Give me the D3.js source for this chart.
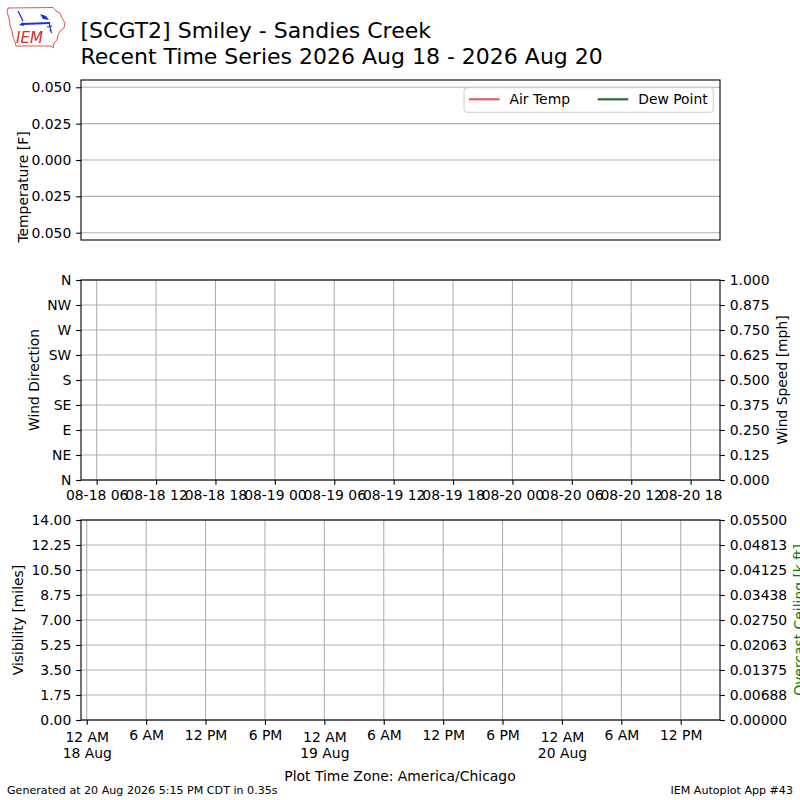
<!DOCTYPE html>
<html>
<head>
<meta charset="utf-8">
<script src="https://cdn.jsdelivr.net/npm/d3@7"></script>
<style>
  html, body { margin: 0; padding: 0; background: #fff; }
  svg { display: block; }
  text { font-family: "DejaVu Sans", sans-serif; }
</style>
</head>
<body>
<div id="chart"></div>
<script>
// ---------------- data ----------------
const titleLines = ["[SCGT2] Smiley - Sandies Creek", "Recent Time Series 2026 Aug 18 - 2026 Aug 20"];
const timeDomain = ["2026-08-18T04:25:00Z", "2026-08-20T20:58:00Z"];

// series (no observations in this window)
const obsTimes = [];
const airTemp = [];
const dewPoint = [];
const windDir = [];
const windSpeed = [];
const visibility = [];
const ceiling = [];

const seriesNames = ["Air Temp", "Dew Point"];
const seriesColors = ["#e05c66", "#2d6a2f"];

// panel 1 ticks
const tempDomain = [-0.055, 0.055];
const tempTicks = [-0.05, -0.025, 0, 0.025, 0.05];
const tempTickLabels = ["0.050", "0.025", "0.000", "0.025", "0.050"];

// panel 2 ticks
const dirTicks = [0, 45, 90, 135, 180, 225, 270, 315, 360];
const dirLabels = ["N", "NE", "E", "SE", "S", "SW", "W", "NW", "N"];
const speedTicks = [0, 0.125, 0.25, 0.375, 0.5, 0.625, 0.75, 0.875, 1.0];
const speedLabels = ["0.000", "0.125", "0.250", "0.375", "0.500", "0.625", "0.750", "0.875", "1.000"];
const utcTicks = ["2026-08-18T06:00Z", "2026-08-18T12:00Z", "2026-08-18T18:00Z", "2026-08-19T00:00Z",
  "2026-08-19T06:00Z", "2026-08-19T12:00Z", "2026-08-19T18:00Z", "2026-08-20T00:00Z",
  "2026-08-20T06:00Z", "2026-08-20T12:00Z", "2026-08-20T18:00Z"];
const utcTickLabels = ["08-18 06", "08-18 12", "08-18 18", "08-19 00", "08-19 06", "08-19 12",
  "08-19 18", "08-20 00", "08-20 06", "08-20 12", "08-20 18"];

// panel 3 ticks
const visTicks = [0, 1.75, 3.5, 5.25, 7, 8.75, 10.5, 12.25, 14];
const visLabels = ["0.00", "1.75", "3.50", "5.25", "7.00", "8.75", "10.50", "12.25", "14.00"];
const ceilTicks = [0, 0.006875, 0.01375, 0.020625, 0.0275, 0.034375, 0.04125, 0.048125, 0.055];
const ceilLabels = ["0.00000", "0.00688", "0.01375", "0.02063", "0.02750", "0.03438", "0.04125", "0.04813", "0.05500"];
const localTicks = ["2026-08-18T05:00Z", "2026-08-18T11:00Z", "2026-08-18T17:00Z", "2026-08-18T23:00Z",
  "2026-08-19T05:00Z", "2026-08-19T11:00Z", "2026-08-19T17:00Z", "2026-08-19T23:00Z",
  "2026-08-20T05:00Z", "2026-08-20T11:00Z", "2026-08-20T17:00Z"];
const localTickLabels = ["12 AM|18 Aug", "6 AM", "12 PM", "6 PM", "12 AM|19 Aug", "6 AM", "12 PM", "6 PM",
  "12 AM|20 Aug", "6 AM", "12 PM"];

// ---------------- drawing ----------------
const W = 800, H = 800;
const FS = 13.9;
const TICK = 4.86, PAD = 4.86;
const GRID = "#b0b0b0";
const svg = d3.select("#chart").append("svg").attr("width", W).attr("height", H);

const left = 81, right = 720;
const p1 = {top: 80, bottom: 240};
const p2 = {top: 280, bottom: 480};
const p3 = {top: 520, bottom: 720};

const x = d3.scaleUtc().domain(timeDomain.map(d => new Date(d))).range([left, right]);

function styleAxis(g) {
  g.attr("font-size", FS).attr("font-family", "DejaVu Sans");
  g.select(".domain").remove();
  g.selectAll(".tick line").attr("stroke", "#000").attr("stroke-width", 1.1);
  g.selectAll(".tick text").attr("fill", "#000");
}
function frame(p) {
  svg.append("rect").attr("x", left).attr("y", p.top).attr("width", right - left).attr("height", p.bottom - p.top)
    .attr("fill", "none").attr("stroke", "#000").attr("stroke-width", 1.1);
}
function hgrid(p, scale, ticks) {
  svg.append("g").selectAll("line").data(ticks).join("line")
    .attr("x1", left).attr("x2", right).attr("y1", d => scale(d)).attr("y2", d => scale(d))
    .attr("stroke", GRID).attr("stroke-width", 1.1);
}
function vgrid(p, ticks) {
  svg.append("g").selectAll("line").data(ticks).join("line")
    .attr("y1", p.top).attr("y2", p.bottom).attr("x1", d => x(new Date(d))).attr("x2", d => x(new Date(d)))
    .attr("stroke", GRID).attr("stroke-width", 1.1);
}
function ylabel(txt, xb, yc, color) {
  svg.append("text").attr("transform", `translate(${xb},${yc}) rotate(-90)`)
    .attr("text-anchor", "middle").attr("font-size", FS).attr("fill", color || "#000").text(txt);
}

// ---- Panel 1: temperature ----
const yT = d3.scaleLinear().domain(tempDomain).range([p1.bottom, p1.top]);
hgrid(p1, yT, tempTicks);
const lineT = d3.line().x((d, i) => x(new Date(obsTimes[i]))).y(d => yT(d));
svg.append("path").datum(airTemp).attr("d", lineT).attr("fill", "none").attr("stroke", seriesColors[0]).attr("stroke-width", 2);
svg.append("path").datum(dewPoint).attr("d", lineT).attr("fill", "none").attr("stroke", seriesColors[1]).attr("stroke-width", 2);
svg.append("g").attr("transform", `translate(${left},0)`)
  .call(d3.axisLeft(yT).tickValues(tempTicks).tickFormat((d, i) => tempTickLabels[i]).tickSize(TICK).tickPadding(PAD))
  .call(styleAxis);
frame(p1);
ylabel("Temperature [F]", 27.5, 187);

// legend
const lg = svg.append("g");
lg.append("rect").attr("x", 464).attr("y", 87.7).attr("width", 249.3).attr("height", 24.6).attr("rx", 3)
  .attr("fill", "#fff").attr("fill-opacity", 0.8).attr("stroke", "#cccccc").attr("stroke-width", 1);
const legX = [469, 597.7];
seriesNames.forEach((n, i) => {
  lg.append("line").attr("x1", legX[i]).attr("x2", legX[i] + 30.6).attr("y1", 99.3).attr("y2", 99.3)
    .attr("stroke", seriesColors[i]).attr("stroke-width", 2.2);
  lg.append("text").attr("x", legX[i] + 40.5).attr("y", 104).attr("font-size", FS).attr("fill", "#000").text(n);
});

// ---- Panel 2: wind ----
const yD = d3.scaleLinear().domain([0, 360]).range([p2.bottom, p2.top]);
const yS = d3.scaleLinear().domain([0, 1]).range([p2.bottom, p2.top]);
hgrid(p2, yD, dirTicks);
vgrid(p2, utcTicks);
svg.append("g").selectAll("circle").data(windDir).join("circle")
  .attr("cx", (d, i) => x(new Date(obsTimes[i]))).attr("cy", d => yD(d)).attr("r", 2).attr("fill", "b");
svg.append("path").datum(windSpeed).attr("d", d3.line().x((d, i) => x(new Date(obsTimes[i]))).y(d => yS(d)))
  .attr("fill", "none").attr("stroke", "#000");
svg.append("g").attr("transform", `translate(${left},0)`)
  .call(d3.axisLeft(yD).tickValues(dirTicks).tickFormat((d, i) => dirLabels[i]).tickSize(TICK).tickPadding(PAD))
  .call(styleAxis);
svg.append("g").attr("transform", `translate(${right},0)`)
  .call(d3.axisRight(yS).tickValues(speedTicks).tickFormat((d, i) => speedLabels[i]).tickSize(TICK).tickPadding(PAD))
  .call(styleAxis);
svg.append("g").attr("transform", `translate(0,${p2.bottom})`)
  .call(d3.axisBottom(x).tickValues(utcTicks.map(d => new Date(d))).tickFormat((d, i) => utcTickLabels[i]).tickSize(TICK).tickPadding(PAD))
  .call(styleAxis);
frame(p2);
ylabel("Wind Direction", 38.5, 380);
ylabel("Wind Speed [mph]", 786.5, 380);

// ---- Panel 3: visibility / ceiling ----
const yV = d3.scaleLinear().domain([0, 14]).range([p3.bottom, p3.top]);
const yC = d3.scaleLinear().domain([0, 0.055]).range([p3.bottom, p3.top]);
hgrid(p3, yV, visTicks);
vgrid(p3, localTicks);
svg.append("path").datum(visibility).attr("d", d3.line().x((d, i) => x(new Date(obsTimes[i]))).y(d => yV(d)))
  .attr("fill", "none").attr("stroke", "#000");
svg.append("path").datum(ceiling).attr("d", d3.line().x((d, i) => x(new Date(obsTimes[i]))).y(d => yC(d)))
  .attr("fill", "none").attr("stroke", "green");
svg.append("g").attr("transform", `translate(${left},0)`)
  .call(d3.axisLeft(yV).tickValues(visTicks).tickFormat((d, i) => visLabels[i]).tickSize(TICK).tickPadding(PAD))
  .call(styleAxis);
svg.append("g").attr("transform", `translate(${right},0)`)
  .call(d3.axisRight(yC).tickValues(ceilTicks).tickFormat((d, i) => ceilLabels[i]).tickSize(TICK).tickPadding(PAD))
  .call(styleAxis);
const bx = svg.append("g").attr("transform", `translate(0,${p3.bottom})`)
  .call(d3.axisBottom(x).tickValues(localTicks.map(d => new Date(d))).tickFormat((d, i) => localTickLabels[i]).tickSize(TICK).tickPadding(PAD))
  .call(styleAxis);
bx.selectAll(".tick text").each(function () {
  const t = d3.select(this);
  const parts = t.text().split("|");
  if (parts.length > 1) {
    t.text(null).attr("dy", null).attr("y", null);
    t.append("tspan").attr("x", 0).attr("y", 21.5).text(parts[0]);
    t.append("tspan").attr("x", 0).attr("y", 38).text(parts[1]);
  }
});
frame(p3);
ylabel("Visibility [miles]", 22.5, 620);
ylabel("Overcast Ceiling [k ft]", 804, 620, "green");

// ---- titles & footer ----
titleLines.forEach((t, i) => {
  svg.append("text").attr("x", 80.5).attr("y", [37.5, 63.5][i]).attr("font-size", 22).attr("fill", "#000").text(t);
});
svg.append("text").attr("x", 400).attr("y", 781).attr("text-anchor", "middle").attr("font-size", FS).text("Plot Time Zone: America/Chicago");
svg.append("text").attr("x", 7).attr("y", 794).attr("font-size", 11.1).text("Generated at 20 Aug 2026 5:15 PM CDT in 0.35s");
svg.append("text").attr("x", 793).attr("y", 794).attr("text-anchor", "end").attr("font-size", 11.1).text("IEM Autoplot App #43");

// ---- logo ----
const logo = svg.append("g");
logo.append("path")
  .attr("d", "M8,8 L53,7.5 L56,11 L60,13 L62,18 L65,23 L64,28 L60,31 L58,35 L57,40 L54,43 L53,48 L51,46 L16,46 L15,42 L13,37 L12,31 L10,25 L9,18 L7,12 Z")
  .attr("fill", "none").attr("stroke", "#e04040").attr("stroke-width", 0.9);
const blue = "#1f2fd0";
logo.append("path").attr("d", "M22,24 L50,23").attr("stroke", blue).attr("stroke-width", 2).attr("fill", "none");
logo.append("path").attr("d", "M18,11 L23,21").attr("stroke", blue).attr("stroke-width", 1.3).attr("fill", "none");
logo.append("path").attr("d", "M19,25 L23,22 L24,26 Z").attr("fill", blue);
logo.append("path").attr("d", "M40,14 L46,16 L49,20 L43,19 Z").attr("fill", blue);
logo.append("path").attr("d", "M49,22 L51,31 M47,27 L52,26 M50,30 L52,33").attr("stroke", blue).attr("stroke-width", 1.2).attr("fill", "none");
logo.append("text").attr("x", 16).attr("y", 43).attr("font-family", "Liberation Serif").attr("font-style", "italic")
  .attr("font-size", 15).attr("fill", "#d42a2a").text("IEM");
</script>
</body>
</html>
